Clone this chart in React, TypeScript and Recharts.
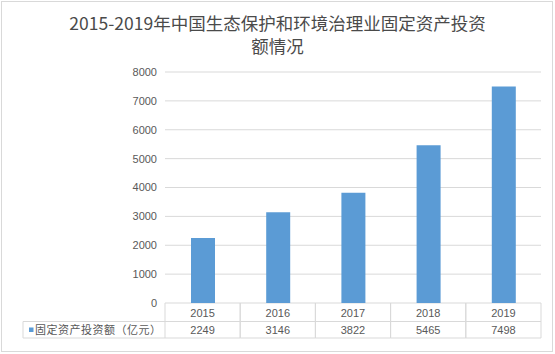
import React from "react";
import { Bar, BarChart, CartesianGrid, XAxis, YAxis } from "recharts";

const years = ["2015", "2016", "2017", "2018", "2019"];
const investment = [2249, 3146, 3822, 5465, 7498];
const yTicks = [0, 1000, 2000, 3000, 4000, 5000, 6000, 7000, 8000];
const seriesName = "固定资产投资额（亿元）";
const titleLines = ["2015-2019年中国生态保护和环境治理业固定资产投资", "额情况"];

const BAR_COLOR = "#5b9bd5";
const LINE_COLOR = "#d9d9d9";
const TEXT_COLOR = "#595959";
const FONT = "'Liberation Sans', Arial, 'Noto Sans CJK SC', sans-serif";

const data = years.map((year, i) => ({ year, value: investment[i] }));

// draws one column of the data table under the plot
function TableTick(props: any) {
  const { x, y, payload, index } = props;
  const half = payload.offset || 37.6;
  const left = x - half;
  const right = x + half;
  const row1 = 18.5;
  const row2 = 35;
  const legendLeft = left - 142;
  return (
    <g>
      <line x1={left} y1={y} x2={left} y2={y + row2} stroke={LINE_COLOR} />
      <line x1={right} y1={y} x2={right} y2={y + row2} stroke={LINE_COLOR} />
      <line x1={left} y1={y + row1} x2={right} y2={y + row1} stroke={LINE_COLOR} />
      <line x1={left} y1={y + row2} x2={right} y2={y + row2} stroke={LINE_COLOR} />
      <text x={x} y={y + 14} textAnchor="middle" fill={TEXT_COLOR} fontSize={11} fontFamily={FONT}>
        {payload.value}
      </text>
      <text x={x} y={y + 31} textAnchor="middle" fill={TEXT_COLOR} fontSize={11} fontFamily={FONT}>
        {investment[index]}
      </text>
      {index === 0 && (
        <g>
          <line x1={legendLeft} y1={y + row1} x2={left} y2={y + row1} stroke={LINE_COLOR} />
          <line x1={legendLeft} y1={y + row2} x2={left} y2={y + row2} stroke={LINE_COLOR} />
          <line x1={legendLeft} y1={y + row1} x2={legendLeft} y2={y + row2} stroke={LINE_COLOR} />
          <rect x={legendLeft + 6} y={y + 24.5} width={4.5} height={4.5} fill={BAR_COLOR} />
          <text
            x={legendLeft + 12}
            y={y + 31}
            fill={TEXT_COLOR}
            fontSize={11}
            letterSpacing={0.5}
            fontFamily="'Noto Sans CJK SC', sans-serif"
          >
            {seriesName}
          </text>
        </g>
      )}
    </g>
  );
}

export default function App() {
  return (
    <div style={{ position: "absolute", left: 0, top: 0, width: 555, height: 354, background: "#fff" }}>
      <div
        style={{
          position: "absolute",
          left: 1,
          top: 1,
          width: 552,
          height: 351,
          border: `1px solid ${LINE_COLOR}`,
          boxSizing: "border-box",
        }}
      />
      {titleLines.map((line, i) => (
        <div
          key={line}
          style={{
            position: "absolute",
            left: 0,
            top: 14 + i * 23,
            width: 555,
            textAlign: "center",
            fontFamily: "'Noto Sans CJK SC', sans-serif",
            fontSize: 17.5,
            lineHeight: "17px",
            color: "#4a4a4a",
          }}
        >
          {line}
        </div>
      ))}
      <BarChart
        width={555}
        height={354}
        data={data}
        margin={{ top: 72, right: 14, bottom: 11, left: 0 }}
        barSize={24}
        style={{ position: "absolute", left: 0, top: 0 }}
      >
        <CartesianGrid vertical={false} stroke={LINE_COLOR} />
        <XAxis
          dataKey="year"
          axisLine={false}
          tickLine={false}
          tickSize={0}
          tickMargin={0}
          height={40}
          interval={0}
          tick={<TableTick />}
        />
        <YAxis
          width={165}
          domain={[0, 8000]}
          ticks={yTicks}
          axisLine={false}
          tickLine={false}
          tickSize={0}
          tickMargin={8}
          tick={{ fill: TEXT_COLOR, fontSize: 11, fontFamily: FONT }}
        />
        <Bar dataKey="value" name={seriesName} fill={BAR_COLOR} isAnimationActive={false} />
      </BarChart>
    </div>
  );
}
